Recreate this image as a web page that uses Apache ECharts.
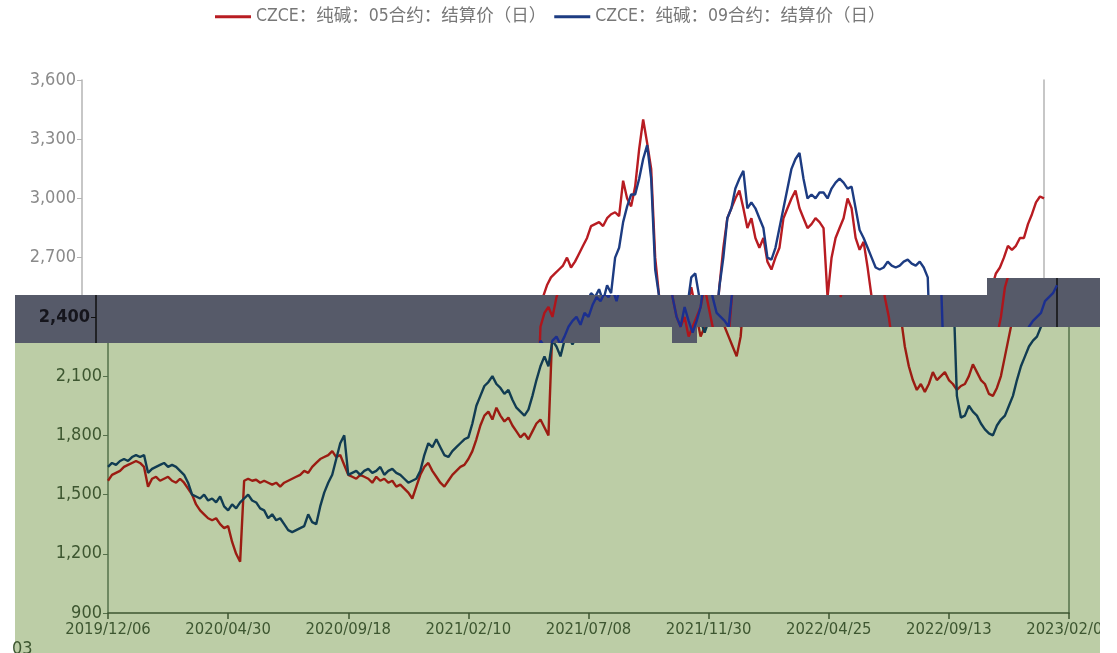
<!DOCTYPE html>
<html>
<head>
<meta charset="utf-8">
<script src="https://cdn.jsdelivr.net/npm/echarts@6/dist/echarts.min.js"></script>
<style>
  body { margin: 0; background: #fff; }
  #wrap { position: relative; width: 1117px; height: 653px; overflow: hidden; }
  .layer { position: absolute; top: 0; left: 0; height: 653px; }
  #layerB { clip-path: polygon(15px 295px, 987px 295px, 987px 278px, 1100px 278px, 1100px 327px, 697px 327px, 697px 343px, 672px 343px, 672px 327px, 600px 327px, 600px 343px, 15px 343px); }
  #layerC { clip-path: inset(327px 0 0 0); }
</style>
</head>
<body>
<div id="wrap">
  <div id="layerA" class="layer" style="width:1117px"></div>
  <div id="layerC" class="layer" style="width:1100px"></div>
  <div id="layerB" class="layer" style="width:1100px"></div>
</div>
<script>
// tick labels on the date axis, one every 30 points
const tickDates = ['2019/12/06', '2020/04/30', '2020/09/18', '2021/02/10', '2021/07/08',
  '2021/11/30', '2022/04/25', '2022/09/13', '2023/02/03']
const perTick = 30

const name05 = 'CZCE：纯碱：05合约：结算价（日）'
const name09 = 'CZCE：纯碱：09合约：结算价（日）'

// 05 contract settlement price
const red05 = [
  1570, 1600, 1610, 1620, 1640, 1650, 1660, 1670, 1660, 1640,
  1540, 1580, 1590, 1570, 1580, 1590, 1570, 1560, 1580, 1560,
  1530, 1500, 1450, 1420, 1400, 1380, 1370, 1380, 1350, 1330,
  1340, 1260, 1200, 1160, 1570, 1580, 1570, 1575, 1560, 1570,
  1560, 1550, 1560, 1540, 1560, 1570, 1580, 1590, 1600, 1620,
  1610, 1640, 1660, 1680, 1690, 1700, 1720, 1690, 1700, 1650,
  1600, 1590, 1580, 1600, 1590, 1580, 1560, 1590, 1570, 1580,
  1560, 1570, 1540, 1550, 1530, 1510, 1480, 1540, 1600, 1640,
  1660, 1620, 1590, 1560, 1540, 1570, 1600, 1620, 1640, 1650,
  1680, 1720, 1780, 1850, 1900, 1920, 1880, 1940, 1900, 1870,
  1890, 1850, 1820, 1790, 1810, 1780, 1820, 1860, 1880, 1840,
  1800, 2350, 2420, 2450, 2400, 2500, 2560, 2600, 2620, 2640,
  2660, 2700, 2650, 2680, 2720, 2760, 2800, 2860, 2870, 2880,
  2860, 2900, 2920, 2930, 2910, 3090, 3000, 2960, 3060, 3250,
  3400, 3280, 3150, 2700, 2500, 2400, 2350, 2400, 2300, 2350,
  2400, 2450, 2550, 2450, 2350, 2300, 2250, 2200, 2300, 2550,
  2750, 2900, 2950, 3000, 3040, 2950, 2850, 2900, 2800, 2750,
  2800, 2680, 2640, 2700, 2750, 2900, 2950, 3000, 3040, 2950,
  2900, 2850, 2870, 2900, 2880, 2850, 2500, 2700, 2800, 2850,
  2900, 3000, 2950, 2800, 2740, 2780, 2650, 2500, 2400, 2250,
  2150, 2080, 2030, 2060, 2020, 2060, 2120, 2080, 2100, 2120,
  2080, 2060, 2030, 2050, 2060, 2100, 2160, 2120, 2080, 2060,
  2010, 2000, 2040, 2100, 2200, 2300, 2400, 2550, 2620, 2650,
  2700, 2760, 2740, 2760, 2800, 2800, 2870, 2920, 2980, 3010,
  3000
]

// 09 contract settlement price
const blue09 = [
  1640, 1660, 1650, 1670, 1680, 1670, 1690, 1700, 1690, 1700,
  1610, 1630, 1640, 1650, 1660, 1640, 1650, 1640, 1620, 1600,
  1560, 1500, 1490, 1480, 1500, 1470, 1480, 1460, 1490, 1440,
  1420, 1450, 1430, 1460, 1480, 1500, 1470, 1460, 1430, 1420,
  1380, 1400, 1370, 1380, 1350, 1320, 1310, 1320, 1330, 1340,
  1400, 1360, 1350, 1440, 1510, 1560, 1600, 1680, 1760, 1800,
  1600, 1610, 1620, 1600, 1620, 1630, 1610, 1620, 1640, 1600,
  1620, 1630, 1610, 1600, 1580, 1560, 1570, 1580, 1620, 1700,
  1760, 1740, 1780, 1740, 1700, 1690, 1720, 1740, 1760, 1780,
  1790, 1860, 1950, 2000, 2050, 2070, 2100, 2060, 2040, 2010,
  2030, 1980, 1940, 1920, 1900, 1930, 2000, 2080, 2150, 2200,
  2150, 2280, 2250, 2200, 2280, 2300, 2260, 2300, 2350, 2380,
  2400, 2360, 2420, 2400, 2460, 2500, 2480, 2520, 2500, 2540,
  2480, 2560, 2520, 2700, 2750, 2880, 2960, 3020, 3020, 3100,
  3200, 3270, 3100, 2640, 2500, 2400, 2350, 2450, 2380, 2320,
  2380, 2450, 2600, 2620, 2500, 2420, 2400, 2380, 2350, 2550,
  2700, 2900, 2950, 3050, 3100, 3140, 2950, 2980, 2950, 2900,
  2850, 2700, 2690, 2750, 2850, 2950, 3050, 3150, 3200, 3230,
  3100, 3000, 3020, 3000, 3030, 3030, 3000, 3050, 3080, 3100,
  3080, 3050, 3060, 2950, 2840, 2800, 2750, 2700, 2650, 2640,
  2650, 2680, 2660, 2650, 2660, 2680, 2690, 2670, 2660, 2680,
  2650, 2600, 2000, 1890, 1900, 1950, 1920, 1900, 1860, 1830,
  1810, 1800, 1850, 1880, 1900, 1950, 2000, 2080, 2150, 2200,
  2250, 2280, 2300, 2350, 2380, 2400, 2420, 2480, 2500, 2520,
  2560
]

// daily categories between the tick dates
function buildDates() {
  const out = []
  const toUtc = s => { const p = s.split('/'); return Date.UTC(+p[0], +p[1] - 1, +p[2]) }
  const fmt = t => {
    const d = new Date(t)
    const mm = String(d.getUTCMonth() + 1).padStart(2, '0')
    const dd = String(d.getUTCDate()).padStart(2, '0')
    return d.getUTCFullYear() + '/' + mm + '/' + dd
  }
  for (let k = 0; k < tickDates.length - 1; k++) {
    const a = toUtc(tickDates[k])
    const b = toUtc(tickDates[k + 1])
    for (let j = 0; j < perTick; j++) {
      out.push(j === 0 ? tickDates[k] : fmt(a + Math.round((b - a) * j / perTick / 86400000) * 86400000))
    }
  }
  out.push(tickDates[tickDates.length - 1])
  return out
}
const dates = buildDates()

const narrow = "'DejaVu Sans Condensed', 'Liberation Sans Narrow', sans-serif"

function makeOption(s) {
  const yLabel = {
    color: s.label,
    fontSize: 18,
    fontFamily: narrow,
    fontWeight: s.bold ? 'bold' : 'normal',
    margin: 6,
    formatter: v => v.toLocaleString('en-US')
  }
  return {
    animation: false,
    backgroundColor: s.bg,
    legend: {
      show: !!s.legend,
      top: 3,
      left: 210,
      icon: 'rect',
      itemWidth: 36,
      itemHeight: 3,
      itemGap: 8,
      textStyle: { color: '#777', fontSize: 17.5, fontFamily: "'DejaVu Sans Condensed', 'Noto Sans CJK SC', sans-serif" },
      data: [name05, name09]
    },
    graphic: s.graphic || [],
    grid: { left: s.left, width: s.plotW, top: 80, bottom: 40, outerBoundsMode: 'none' },
    xAxis: {
      type: 'category',
      data: dates,
      boundaryGap: false,
      axisLine: { lineStyle: { color: s.xAxis, width: 1.5 } },
      axisTick: { interval: perTick - 1, length: 6, lineStyle: { color: s.xAxis, width: 1.5 } },
      axisLabel: { interval: perTick - 1, color: s.label, fontSize: 16.5, fontFamily: narrow, margin: 8 },
      splitLine: { show: false }
    },
    yAxis: [{
      type: 'value',
      min: 900,
      max: 3600,
      interval: 300,
      axisLine: { show: true, lineStyle: { color: s.axis, width: 1.5 } },
      axisTick: { show: true, length: 5, lineStyle: { color: s.axis } },
      axisLabel: yLabel,
      splitLine: { show: false }
    }, {
      type: 'value',
      position: 'right',
      min: 900,
      max: 3600,
      interval: 300,
      axisLine: { show: true, lineStyle: { color: s.axis, width: 1.5 } },
      axisTick: { show: false },
      axisLabel: { show: false },
      splitLine: { show: false }
    }],
    series: [{
      name: name05,
      type: 'line',
      data: red05,
      symbol: 'none',
      color: s.red,
      lineStyle: { color: s.red, width: 2.4 }
    }, {
      name: name09,
      type: 'line',
      data: blue09,
      symbol: 'none',
      color: s.blue,
      lineStyle: { color: s.blue, width: 2.4 }
    }]
  }
}

const layers = [
  { id: 'layerA', left: 82, plotW: 962, bg: '#ffffff', label: '#8a8a8a', axis: '#b4b4b4', xAxis: '#b4b4b4',
    red: '#b81c22', blue: '#1d3c82', legend: true },
  { id: 'layerC', left: 108, plotW: 961, bg: 'transparent', label: '#3d5630', axis: '#55704a', xAxis: '#3d5630',
    red: '#9b1c12', blue: '#113c52',
    graphic: [
      { type: 'rect', z: -100, shape: { x: 15, y: 0, width: 1085, height: 653 }, style: { fill: '#bccda6' } },
      { type: 'text', left: 12, top: 640, style: { text: '03', fill: '#3d5630', fontSize: 18, fontFamily: narrow } }
    ] },
  { id: 'layerB', left: 96, plotW: 961, bg: '#565a69', label: '#15151c', axis: '#111111', xAxis: '#111111',
    red: '#ae151b', blue: '#1b2f8f', bold: true }
]

layers.forEach(s => {
  const chart = echarts.init(document.getElementById(s.id))
  chart.setOption(makeOption(s))
})
</script>
</body>
</html>
